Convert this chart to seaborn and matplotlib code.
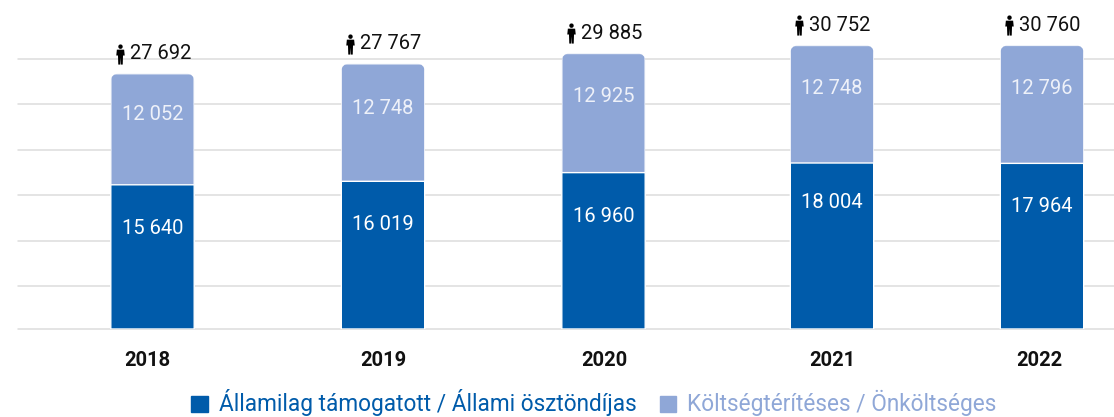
# Stacked student numbers by year, with total labels above the bars
import numpy as np
import pandas as pd
import seaborn as sns
import matplotlib.pyplot as plt
from matplotlib.patches import FancyBboxPatch, Patch
from matplotlib.path import Path
from matplotlib.transforms import IdentityTransform

years = ['2018', '2019', '2020', '2021', '2022']
allami = [15640, 16019, 16960, 18004, 17964]
onkolts = [12052, 12748, 12925, 12748, 12796]
total_labels = ['27 692', '27 767', '29 885', '30 752', '30 760']
grid_values = [0, 4660, 9540, 14530, 19410, 24400, 29280]
labels = ['Államilag támogatott / Állami ösztöndíjas', 'Költségtérítéses / Önköltséges']

# layout, in pixels of the 1114x417 picture
bar_centres = [152.5, 383, 603.5, 832, 1042]
year_centres = [147, 383, 604, 832, 1039]
allami_label_px = [100, 105, 113, 126, 122]
onkolts_label_px = [214, 221, 233, 240, 240]
px_per_value = 0.00922
baseline = 329
left = 18

BLUE = '#005BAA'
LIGHT = '#8FA7D7'

sns.set_theme(style='white')
plt.rcParams['font.family'] = ['Roboto', 'DejaVu Sans']

fig = plt.figure(figsize=(11.14, 4.17), dpi=100)
ax = fig.add_axes([left / 1114, (417 - baseline) / 417, (1114 - left) / 1114, baseline / 417])

df = pd.DataFrame({'x': bar_centres, 'allami': allami, 'onkolts': onkolts})
df['total'] = df['allami'] + df['onkolts']

# light bar is the whole total, blue one goes over its lower part
sns.barplot(data=df, x='x', y='total', native_scale=True, width=83 / 209, color=LIGHT, saturation=1, ax=ax, zorder=3)
n_light = len(ax.patches)
sns.barplot(data=df, x='x', y='allami', native_scale=True, width=83 / 209, color=BLUE, saturation=1, ax=ax, zorder=4)

ax.set_xlim(left, 1114)
ax.set_ylim(0, baseline / px_per_value)
ax.set_xlabel('')
ax.set_ylabel('')
ax.set_yticks(grid_values)
ax.set_yticklabels([])
ax.set_xticks(year_centres)
ax.set_xticklabels(years, fontsize=14.5, fontweight='bold', color='#111111')
ax.tick_params(axis='x', length=0, pad=15.5)
ax.tick_params(axis='y', length=0)
ax.grid(axis='y', color='#dddddd', linewidth=1.1, zorder=0)
ax.set_axisbelow(True)
for line in ax.get_ygridlines():
    line.set_clip_on(False)
sns.despine(ax=ax, left=True, bottom=True, top=True, right=True)

# no pixel snapping, so the clip shapes sit exactly on the bars
for bar in ax.patches:
    bar.set_snap(False)

# round the top corners of the light bars
fig.canvas.draw()
for bar in ax.patches[:n_light]:
    box = bar.get_window_extent()
    clip = FancyBboxPatch((box.x0 + 8, box.y0 - 20), box.width - 16, box.height + 12,
                          boxstyle='round,pad=8,rounding_size=8', transform=IdentityTransform())
    bar.set_clip_path(clip)

# little person icon next to the totals
person = Path.make_compound_path(
    Path.circle((0, 0.78), 0.22),
    Path([(-0.36, 0.48), (0.36, 0.48), (0.42, -0.1), (0.25, -0.1), (0.22, -1), (0.03, -1), (0.0, -0.3),
          (-0.03, -1), (-0.22, -1), (-0.25, -0.1), (-0.42, -0.1), (-0.36, 0.48)],
         closed=True),
)

for i in range(len(years)):
    top = df['total'][i]
    ax.annotate(f"{allami[i]:,}".replace(',', ' '), (bar_centres[i], allami_label_px[i] / px_per_value), color='white',
                fontsize=14.5, ha='center', va='center', zorder=5)
    ax.annotate(f"{onkolts[i]:,}".replace(',', ' '), (bar_centres[i], onkolts_label_px[i] / px_per_value), color='#eef1f9',
                fontsize=14.5, ha='center', va='center', zorder=5)
    ax.annotate(total_labels[i], (bar_centres[i] + 8, top + 20 / px_per_value), color='#111111',
                fontsize=14.5, ha='center', va='center', annotation_clip=False, zorder=5)
    ax.plot([bar_centres[i] - 33], [top + 20 / px_per_value], marker=person, markersize=14.5, color='black',
            markeredgewidth=0, linestyle='none', clip_on=False, zorder=5)

handles = [Patch(color=BLUE), Patch(color=LIGHT)]
leg = fig.legend(handles, labels, loc='center', bbox_to_anchor=(594 / 1114, (417 - 403) / 417), ncol=2, frameon=False,
                 fontsize=16.3, handlelength=0.72, handleheight=0.72, handletextpad=0.5, columnspacing=1.0,
                 borderpad=0, borderaxespad=0)
for txt, col in zip(leg.get_texts(), [BLUE, LIGHT]):
    txt.set_color(col)

fig.savefig('out.png', dpi=100)
